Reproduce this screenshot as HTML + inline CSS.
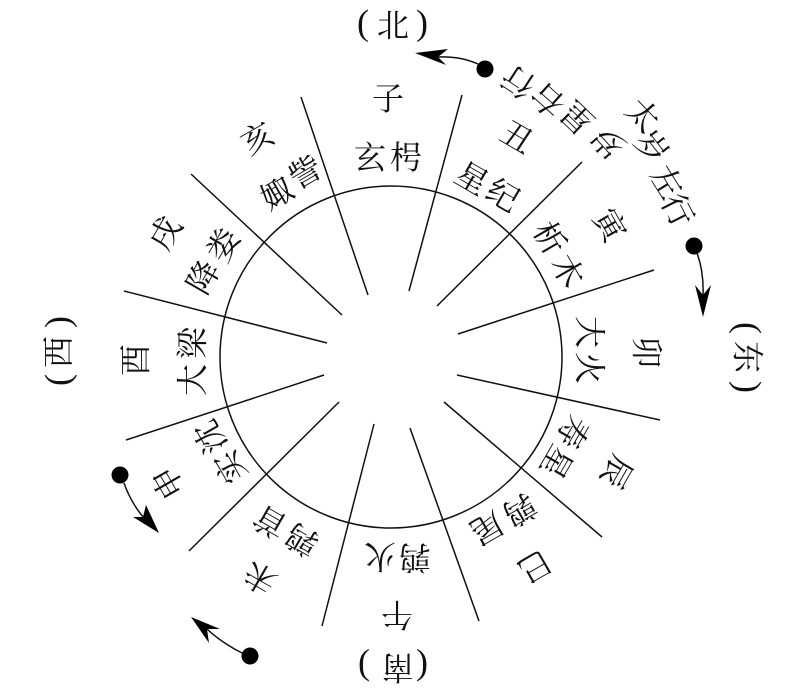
<!DOCTYPE html>
<html lang="zh">
<head>
<meta charset="utf-8">
<style>
html,body{margin:0;padding:0;background:#fff}
svg{display:block}
text{font-family:"Liberation Serif","Noto Serif CJK SC",serif;font-size:32px;fill:#111;text-anchor:middle}
.p{font-family:"Liberation Serif",serif;font-size:36px}
</style>
</head>
<body>
<svg width="793" height="699" viewBox="0 0 793 699" xmlns="http://www.w3.org/2000/svg">
<rect width="793" height="699" fill="#fff"/>
<circle cx="391" cy="357" r="171" fill="none" stroke="#111" stroke-width="1.5"/>
<g stroke="#111" stroke-width="1.5" fill="none">
<line x1="462" y1="95" x2="409" y2="291"/>
<line x1="582" y1="162" x2="437" y2="306"/>
<line x1="654" y1="270" x2="458" y2="334"/>
<line x1="457" y1="375" x2="660" y2="420"/>
<line x1="444" y1="402" x2="602" y2="537"/>
<line x1="410" y1="428" x2="479" y2="621"/>
<line x1="374" y1="424" x2="322" y2="626"/>
<line x1="339" y1="402" x2="189" y2="551"/>
<line x1="324" y1="375" x2="126" y2="440"/>
<line x1="124" y1="291" x2="327" y2="343"/>
<line x1="191" y1="174" x2="342" y2="315"/>
<line x1="301" y1="97" x2="368" y2="295"/>
<path d="M478 64Q460 56 438 57"/>
<path d="M697 253Q704 272 703 296"/>
<path d="M124 483Q131 503 144 518"/>
<path d="M242 653Q222 643 207 629"/>
</g>
<g fill="#000">
<circle cx="485" cy="69" r="8.5"/>
<circle cx="694" cy="246" r="8.5"/>
<circle cx="120" cy="475" r="8.5"/>
<circle cx="250" cy="656" r="8.5"/>
<polygon points="415,53 448,49 438,57 446,65"/>
<polygon points="703,317 695,285 703,295 711,285"/>
<polygon points="159,533 133,517 143,517 146,505"/>
<polygon points="191,617 220,629 207,629 209,643"/>
</g>
<g>
<text transform="translate(393,25)" dy=".36em">北</text>
<text class="p" transform="translate(363,23)" dy=".32em">(</text>
<text class="p" transform="translate(422,23)" dy=".32em">)</text>
<text transform="translate(748,357) rotate(90)" dy=".36em">东</text>
<text class="p" transform="translate(748,328) rotate(90)" dy=".32em">(</text>
<text class="p" transform="translate(748,387) rotate(90)" dy=".32em">)</text>
<text transform="translate(398,668) rotate(180)" dy=".36em">南</text>
<text class="p" transform="translate(422,668) rotate(180)" dy=".32em">(</text>
<text class="p" transform="translate(364,668) rotate(180)" dy=".32em">)</text>
<text transform="translate(58,352) rotate(270)" dy=".36em">西</text>
<text class="p" transform="translate(58,380) rotate(270)" dy=".32em">(</text>
<text class="p" transform="translate(58,322) rotate(270)" dy=".32em">)</text>

<text transform="translate(388,98)" dy=".36em">子</text>
<text transform="translate(370,157)" dy=".36em">玄</text>
<text transform="translate(406,157)" dy=".36em">枵</text>

<text transform="translate(517,137) rotate(30)" dy=".36em">丑</text>
<text transform="translate(472,178) rotate(30)" dy=".36em">星</text>
<text transform="translate(503,195) rotate(30)" dy=".36em">纪</text>

<text transform="translate(610,225) rotate(60)" dy=".36em">寅</text>
<text transform="translate(550,238) rotate(60)" dy=".36em">析</text>
<text transform="translate(568,271) rotate(60)" dy=".36em">木</text>

<text transform="translate(647,352) rotate(90)" dy=".36em">卯</text>
<text transform="translate(590,332) rotate(90)" dy=".36em">大</text>
<text transform="translate(590,368) rotate(90)" dy=".36em">火</text>

<text transform="translate(617,472) rotate(120)" dy=".36em">辰</text>
<text transform="translate(573,432) rotate(120)" dy=".36em">寿</text>
<text transform="translate(557,462) rotate(120)" dy=".36em">星</text>

<text transform="translate(535,567) rotate(150)" dy=".36em">巳</text>
<text transform="translate(520,510) rotate(150)" dy=".36em">鹑</text>
<text transform="translate(487,528) rotate(150)" dy=".36em">尾</text>

<text transform="translate(397,615) rotate(180)" dy=".36em">午</text>
<text transform="translate(415,558) rotate(180)" dy=".36em">鹑</text>
<text transform="translate(380,557) rotate(180)" dy=".36em">火</text>

<text transform="translate(260,578) rotate(210)" dy=".36em">未</text>
<text transform="translate(302,540) rotate(210)" dy=".36em">鹑</text>
<text transform="translate(270,522) rotate(210)" dy=".36em">首</text>

<text transform="translate(168,483) rotate(240)" dy=".36em">申</text>
<text transform="translate(230,467) rotate(240)" dy=".36em">实</text>
<text transform="translate(210,437) rotate(240)" dy=".36em">沈</text>

<text transform="translate(135,360) rotate(270)" dy=".36em">酉</text>
<text transform="translate(192,380) rotate(270)" dy=".36em">大</text>
<text transform="translate(192,343) rotate(270)" dy=".36em">梁</text>

<text transform="translate(165,233) rotate(300)" dy=".36em">戌</text>
<text transform="translate(203,277) rotate(300)" dy=".36em">降</text>
<text transform="translate(223,245) rotate(300)" dy=".36em">娄</text>

<text transform="translate(257,138) rotate(330)" dy=".36em">亥</text>
<text transform="translate(277,193) rotate(330)" dy=".36em">娵</text>
<text transform="translate(305,172) rotate(330)" dy=".36em">訾</text>

<text transform="translate(643,115) rotate(46)" dy=".36em">太</text>
<text transform="translate(652,147) rotate(52)" dy=".36em">岁</text>
<text transform="translate(667,182) rotate(58)" dy=".36em">左</text>
<text transform="translate(678,210) rotate(63)" dy=".36em">行</text>

<text transform="translate(608,142) rotate(228)" dy=".36em">岁</text>
<text transform="translate(577,118) rotate(224)" dy=".36em">星</text>
<text transform="translate(548,100) rotate(222)" dy=".36em">右</text>
<text transform="translate(518,82) rotate(213)" dy=".36em">行</text>
</g>
</svg>
</body>
</html>
